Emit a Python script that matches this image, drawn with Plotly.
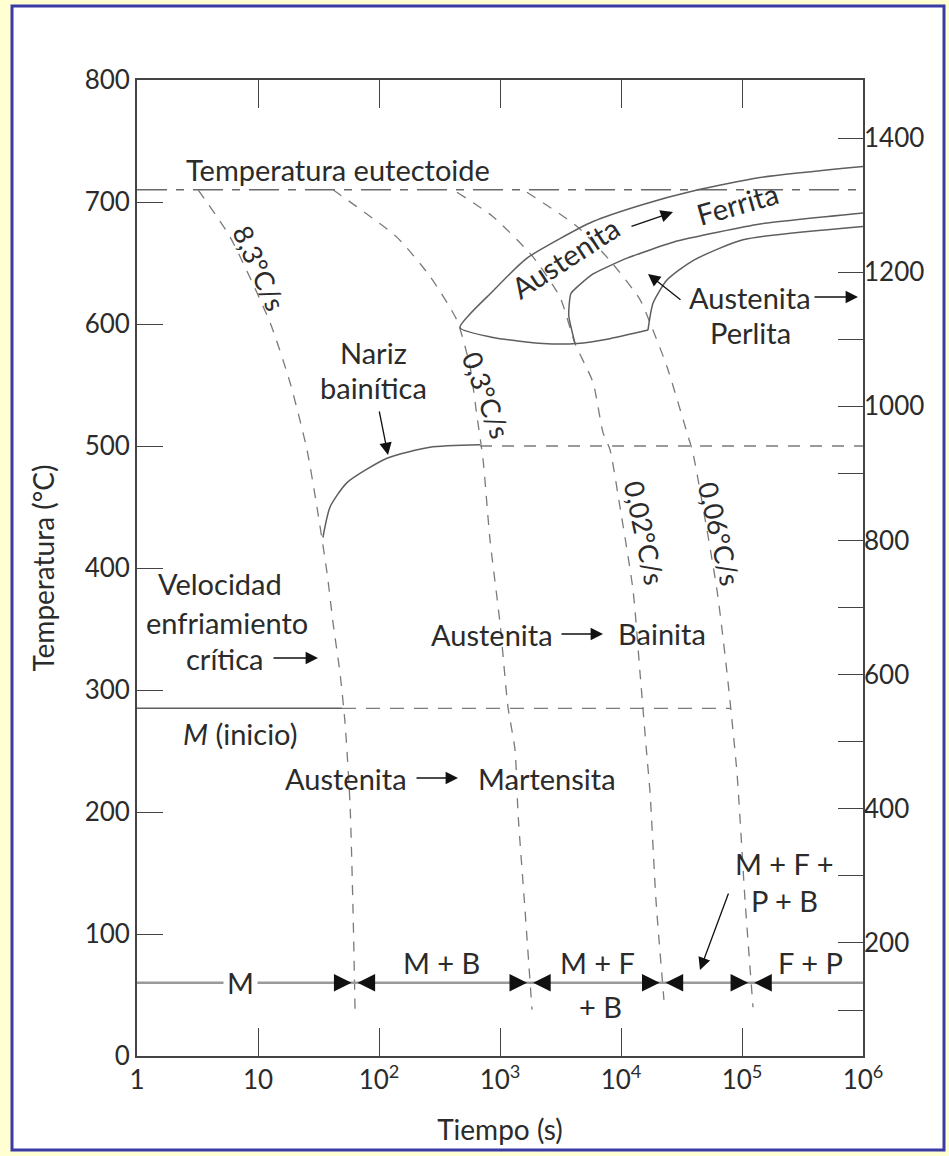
import numpy as np
import plotly.graph_objects as go

# ---------------- data (time in s, temperature in °C) ----------------
T_eutectoid = 710
T_bainite_nose = 500
T_ms = 285
T_region_line = 60

# cooling curves
t_83 = [3.2, 5.9, 12.6, 18.4, 25.4, 30.7, 37.2, 41.7, 47.6, 52.4, 57.6, 61, 63.4]
T_83 = [710, 671, 601, 552, 497, 450, 396, 355, 314, 273, 207, 120, 38]

t_03 = [41.7, 141, 264, 441, 565, 646, 724, 827, 1000, 1164, 1331, 1409, 1609, 1838]
T_03 = [710, 671, 639, 603, 565, 524, 489, 423, 355, 286, 251, 199, 120, 38]

t_002 = [441, 875, 1874, 3133, 4168, 5875, 7100, 8110, 9810, 12570, 14360, 16400, 17380, 19450, 22650]
T_002 = [708, 688, 655, 622, 584, 552, 511, 497, 450, 382, 314, 245, 216, 128, 46]

t_006 = [1671, 4330, 8110, 14360, 17380, 23990, 35100, 39360, 62100, 75200, 90900, 105900, 123300]
T_006 = [708, 680, 652, 620, 601, 565, 511, 494, 382, 314, 232, 128, 40]

# transformation start curves
t_ferrite = [1e6, 140900, 39360, 15210, 5875, 3133, 1671, 875, 467, 875, 2265, 4330, 8110, 16710]
T_ferrite = [729, 720, 709, 698, 684, 670, 654, 627, 597, 589, 584, 584, 588, 595]

t_mid = [4168, 3700, 3860, 5875, 11220, 29040, 140900, 1e6]
T_mid = [584, 607, 625, 641, 654, 668, 682, 691]

t_pearlite = [16710, 18380, 23990, 39360, 101900, 1e6]
T_pearlite = [595, 617, 636, 652, 669, 680]

t_bainite = [34.4, 39.4, 54.4, 116.4, 264, 684]
T_bainite = [425, 450, 470, 490, 499, 501]

t_ms_solid_end = 49.4
t_ms_dash_end = 79600

x_ticks = [1, 10, 100, 1000, 1e4, 1e5, 1e6]
x_ticktext = ["1", "10", "10<sup>2</sup>", "10<sup>3</sup>", "10<sup>4</sup>", "10<sup>5</sup>", "10<sup>6</sup>"]
y_ticks = [0, 100, 200, 300, 400, 500, 600, 700, 800]
yF_ticks = [200, 400, 600, 800, 1000, 1200, 1400]
yF_minor = [100, 300, 500, 700, 900, 1100]

# ---------------- layout geometry ----------------
W, H = 949, 1156
L, R, TOP, BOT = 137, 863, 80, 1056
FONT = "Lato"
TXT = "#2b2b2b"
SOLID = "#5e5e5e"
DASH = "#7a7a7a"


def px(x):
    return (x - L) / (R - L)


def py(y):
    return (BOT - y) / (BOT - TOP)


fig = go.Figure()


def line(t, T, color=DASH, dash="10px,9px", width=1.3, spline=True, smoothing=0.6):
    fig.add_trace(go.Scatter(
        x=t, y=T, mode="lines", hoverinfo="skip", showlegend=False,
        line=dict(color=color, width=width, dash=dash,
                  shape="spline" if spline else "linear", smoothing=smoothing)))


# eutectoid line
line([1, 1e6], [T_eutectoid, T_eutectoid], color="#6a6a6a", dash="30px,9px,8px,9px", width=1.4, spline=False)
# cooling curves
for tt, TT in [(t_83, T_83), (t_03, T_03), (t_002, T_002), (t_006, T_006)]:
    line(tt, TT)
# start curves
line(t_ferrite, T_ferrite, color=SOLID, dash="solid", width=1.5)
line(t_mid, T_mid, color=SOLID, dash="solid", width=1.5, smoothing=0.45)
line(t_pearlite, T_pearlite, color=SOLID, dash="solid", width=1.5)
line(t_bainite, T_bainite, color=SOLID, dash="solid", width=1.5)
line([t_bainite[-1], 1e6], [T_bainite_nose, T_bainite_nose], color=DASH, dash="12px,10px", width=1.3, spline=False)
# martensite start
line([1, t_ms_solid_end], [T_ms, T_ms], color=SOLID, dash="solid", width=1.5, spline=False)
line([t_ms_solid_end, t_ms_dash_end], [T_ms, T_ms], color=DASH, dash="14px,10px", width=1.3, spline=False)
# product region line
line([1, 1e6], [T_region_line, T_region_line], color="#9a9a9a", dash="solid", width=2.4, spline=False)

# dummy trace for Fahrenheit axis
fig.add_trace(go.Scatter(x=[None], y=[None], yaxis="y2", showlegend=False, hoverinfo="skip"))


# boundaries between product regions: where each cooling curve crosses the region line
def crossing(t, T, level):
    lt = np.log10(np.array(t, dtype=float))
    TT = np.array(T, dtype=float)
    return float(np.interp(level, TT[::-1], lt[::-1]))


bounds = [crossing(t, T, T_region_line) for t, T in [(t_83, T_83), (t_03, T_03), (t_002, T_002), (t_006, T_006)]]

ann = []


def text(xp, yp, s, angle=0, size=29, **kw):
    d = dict(x=px(xp), y=py(yp), xref="paper", yref="paper", text=s, showarrow=False,
             textangle=angle, font=dict(family=FONT, size=size, color=TXT),
             xanchor="center", yanchor="middle")
    d.update(kw)
    ann.append(d)


def arrow(x0, y0, x1, y1):
    ann.append(dict(x=px(x1), y=py(y1), xref="paper", yref="paper", text="",
                    showarrow=True, ax=x0 - x1, ay=y0 - y1, axref="pixel", ayref="pixel",
                    arrowhead=2, arrowsize=1.9, arrowwidth=1.3, arrowcolor="#111"))


text(338, 170, "Temperatura eutectoide")
text(260, 268, "8,3°C/s", angle=66, size=27)
text(487, 395, "0,3°C/s", angle=70, size=27)
text(645, 532, "0,02°C/s", angle=78, size=27)
text(720, 533, "0,06°C/s", angle=77, size=27)
text(565, 257, "Austenita", angle=-33)
arrow(630, 227, 673, 212)
text(737, 204, "Ferrita", angle=-16)
text(750, 297, "Austenita")
arrow(813, 297, 858, 297)
text(750, 332, "Perlita")
arrow(682, 301, 648, 274)
text(373, 353, "Nariz")
text(373, 388, "bainítica")
arrow(379, 410, 388, 455)
text(220, 583, "Velocidad")
text(227, 622, "enfriamiento")
text(225, 658, "crítica")
arrow(272, 658, 318, 658)
text(240, 733, "<i>M</i> (inicio)")
text(346, 778, "Austenita")
arrow(415, 778, 458, 778)
text(547, 778, "Martensita")
text(492, 634, "Austenita")
arrow(560, 634, 603, 634)
text(662, 633, "Bainita")
text(240, 982, "M", bgcolor="white", borderpad=3)
text(441, 962, "M + B")
text(597, 962, "M + F")
text(600, 1006, "+ B")
text(810, 962, "F + P")
text(784, 863, "M + F +")
text(784, 900, "P + B")
arrow(729, 892, 700, 970)

# arrowheads on region line
for b in bounds:
    for side in (-1, 1):
        ann.append(dict(x=b, y=T_region_line, xref="x", yref="y", text="", showarrow=True,
                        ax=side * 17, ay=0, axref="pixel", ayref="pixel", standoff=3,
                        arrowhead=2, arrowsize=2.2, arrowwidth=1.6, arrowcolor="#111"))

shapes = [dict(type="rect", xref="paper", yref="paper", layer="below",
               x0=px(12), x1=px(944), y0=py(1150), y1=py(6),
               fillcolor="white", line=dict(color="#3b3ba8", width=3))]

axis_font = dict(family=FONT, size=26, color=TXT)
fig.update_layout(
    width=W, height=H,
    margin=dict(l=L, r=W - R, t=TOP, b=H - BOT, pad=0),
    paper_bgcolor="#FFFFD2", plot_bgcolor="rgba(0,0,0,0)",
    showlegend=False,
    annotations=ann, shapes=shapes,
    xaxis=dict(type="log", range=[0, 6], tickvals=x_ticks, ticktext=x_ticktext,
               ticks="inside", ticklen=28, tickwidth=1.4, tickcolor="#444",
               showline=True, linecolor="#444", linewidth=1.8, mirror="ticks",
               showgrid=False, zeroline=False, tickfont=axis_font,
               title=dict(text="Tiempo (s)", font=dict(family=FONT, size=28, color=TXT), standoff=26)),
    yaxis=dict(range=[0, 800], tickvals=y_ticks, ticks="inside", ticklen=26, tickwidth=1.4,
               tickcolor="#444", showline=True, linecolor="#444", linewidth=1.8, mirror=True,
               showgrid=False, zeroline=False, tickfont=axis_font,
               title=dict(text="Temperatura (°C)", font=dict(family=FONT, size=28, color=TXT), standoff=22)),
    yaxis2=dict(overlaying="y", side="right", range=[31.5, 1486.5], tickvals=yF_ticks,
                ticks="inside", ticklen=25, tickwidth=1.4, tickcolor="#444",
                minor=dict(tickvals=yF_minor, ticks="inside",
                           ticklen=25, tickwidth=1.4, tickcolor="#444"),
                showline=False, showgrid=False, zeroline=False, tickfont=axis_font),
)

fig.write_html("out.html")
